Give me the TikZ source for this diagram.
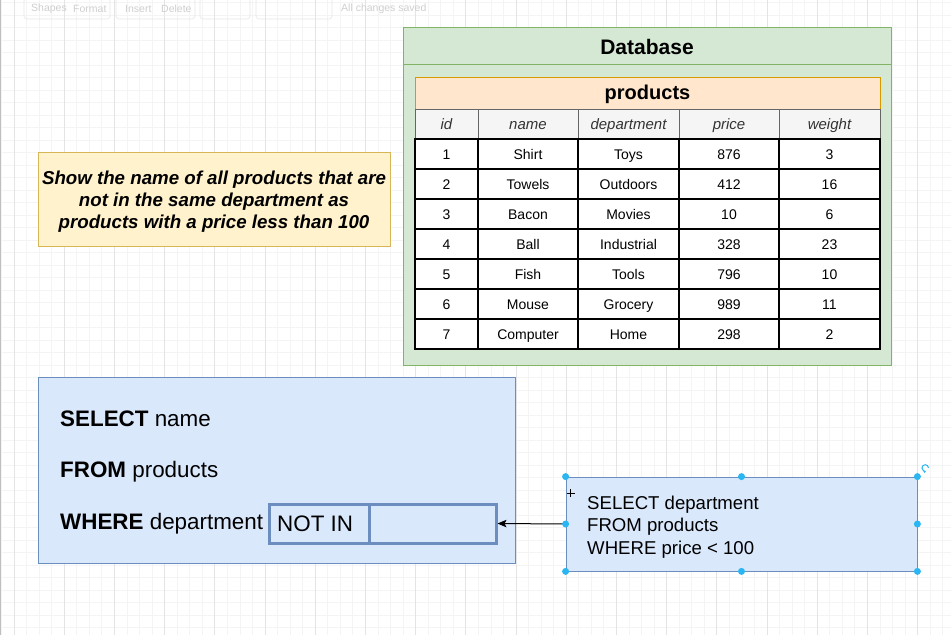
\documentclass[tikz,border=0pt]{standalone}
\usepackage{fontspec}
\setmainfont{Liberation Sans}
\usetikzlibrary{arrows.meta}
\definecolor{gfill}{HTML}{D5E8D4}
\definecolor{gline}{HTML}{82B366}
\definecolor{ofill}{HTML}{FFE6CC}
\definecolor{oline}{HTML}{D79B00}
\definecolor{yfill}{HTML}{FFF2CC}
\definecolor{yline}{HTML}{D6B656}
\definecolor{bfill}{HTML}{DAE8FC}
\definecolor{bline}{HTML}{6C8EBF}
\definecolor{hfill}{HTML}{F5F5F5}
\definecolor{hline}{HTML}{666666}
\definecolor{htext}{HTML}{333333}
\definecolor{handle}{HTML}{29B6F2}
\definecolor{gridminor}{HTML}{F4F4F4}
\definecolor{gridmajor}{HTML}{E4E4E4}
\definecolor{tbtext}{HTML}{CFCFCF}
\begin{document}
\begin{tikzpicture}[x=1pt,y=-1pt,
  box/.style={anchor=north west,inner sep=0pt,outer sep=0pt},
  cell/.style={draw=black,line width=1.2pt,fill=white,minimum height=30pt,inner sep=0pt,
    text height=12pt,text depth=1pt,font=\fontsize{14}{16}\selectfont},
  hcell/.style={draw=hline,line width=1pt,fill=hfill,minimum height=30pt,inner sep=0pt,
    text height=12.5pt,text depth=1.5pt,text=htext,font=\fontsize{15}{17}\selectfont\itshape},
  qtext/.style={anchor=west,inner sep=0pt,font=\fontsize{22.4}{26}\selectfont},
  tb/.style={inner sep=0pt,text=tbtext,font=\fontsize{10.5}{12}\selectfont},
  hdot/.style={fill=handle}
]
\useasboundingbox (0,0) rectangle (951,635);
\fill[white] (0,0) rectangle (951,635);
% grid
\foreach \k in {0,...,50}
  \draw[gridminor,line width=0.8pt] (0,{2.7+12.5*\k}) -- (951,{2.7+12.5*\k});
\foreach \k in {-1,...,74}
  \draw[gridminor,line width=0.8pt] ({14+12.55*\k},0) -- ({14+12.55*\k},635);
\foreach \k in {0,...,18}
  \draw[gridmajor,line width=0.8pt] ({14+50.2*\k},0) -- ({14+50.2*\k},635);
\draw[gray!50,line width=1pt] (0.5,0) -- (0.5,635);
% faint toolbar
\draw[tbtext!50,line width=0.6pt,rounded corners=3pt] (24,-2) rectangle (110,19);
\draw[tbtext!50,line width=0.6pt,rounded corners=3pt] (116,-2) rectangle (195,19);
\draw[tbtext!50,line width=0.6pt,rounded corners=3pt] (200,-2) rectangle (250,19);
\draw[tbtext!50,line width=0.6pt,rounded corners=3pt] (256,-2) rectangle (332,19);
\node[tb,anchor=west] (tshapes) at (31,9) {Shapes};
\node[tb,anchor=west] (tformat) at (73,9) {Format};
\node[tb,anchor=west] (tinsert) at (125,9) {Insert};
\node[tb,anchor=west] (tdelete) at (161,9) {Delete};
\node[tb,anchor=west] (tsaved) at (341,9) {All changes saved};

% Database container
\node[box,draw=gline,fill=gfill,line width=1pt,minimum width=488pt,minimum height=338pt] (db) at (403,27) {};
\draw[gline,line width=1pt] (db.west |- 0,64) -- (db.east |- 0,64);
\node[inner sep=0pt,font=\fontsize{21}{24}\selectfont\bfseries] (dbt) at (647,47) {Database};
\node[box,draw=oline,fill=ofill,line width=1pt,minimum width=465pt,minimum height=32pt] (prod) at (415,77) {};
\node[inner sep=0pt,font=\fontsize{20}{23}\selectfont\bfseries] (prodt) at (647.5,94) {products};
% header row
\foreach \t/\cx/\w [count=\c] in {id/446.5/63,name/528/100,department/628.5/101,price/729/100,weight/829.5/101}
  \node[hcell,minimum width=\w pt] (h\c) at (\cx,124) {\t};
% data rows
\foreach \va/\vb/\vc/\vd/\ve [count=\r] in {1/Shirt/Toys/876/3,2/Towels/Outdoors/412/16,3/Bacon/Movies/10/6,4/Ball/Industrial/328/23,5/Fish/Tools/796/10,6/Mouse/Grocery/989/11,7/Computer/Home/298/2}{
  \node[cell,minimum width=63pt] (r\r c1) at (446.5,{124+30*\r}) {\va};
  \node[cell,minimum width=100pt] (r\r c2) at (528,{124+30*\r}) {\vb};
  \node[cell,minimum width=101pt] (r\r c3) at (628.5,{124+30*\r}) {\vc};
  \node[cell,minimum width=100pt] (r\r c4) at (729,{124+30*\r}) {\vd};
  \node[cell,minimum width=101pt] (r\r c5) at (829.5,{124+30*\r}) {\ve};
}

% task note
\node[draw=yline,fill=yfill,line width=1pt,minimum width=352pt,minimum height=94pt,inner sep=0pt,
  outer sep=0pt] (task) at (214,199) {};
\node[inner sep=0pt,align=center,font=\fontsize{18.7}{22}\selectfont\bfseries\itshape] (tasktext) at (214,202)
  {Show the name of all products that are\\not in the same department as\\products with a price less than 100};

% main query
\node[box,draw=bline,fill=bfill,line width=1pt,minimum width=477pt,minimum height=186pt] (query) at (38,377) {};
\node[qtext] (qsel) at (60,419) {\textbf{SELECT} name};
\node[qtext] (qfrom) at (60,472) {\textbf{FROM} products};
\node[qtext] (qwhere) at (60,524) {\textbf{WHERE} department};
\node[draw=bline,line width=3pt,minimum width=100pt,minimum height=39pt,inner sep=0pt] (notin) at (319,523.5) {};
\node[draw=bline,line width=3pt,minimum width=127pt,minimum height=39pt,inner sep=0pt] (sub) at (432.5,523.5) {};
\node[qtext] (notint) at (277,524) {NOT IN};

% subquery
\node[draw=bline,fill=bfill,line width=0.8pt,minimum width=351pt,minimum height=94pt,inner sep=0pt] (rb) at (741.5,524) {};
\node[anchor=west,inner sep=0pt,align=left,font=\fontsize{18.6}{22.5}\selectfont] (rbt) at (587,527)
  {SELECT department\\FROM products\\WHERE price < 100};
\draw[line width=1pt,-{Stealth[length=9pt,width=7.5pt,inset=2pt]}] (rb.west) -- (sub.east);

% selection handles
\foreach \p in {north west,north,north east,west,east,south west,south,south east}
  \fill[hdot] (rb.\p) circle (3.5);
\draw[handle,line width=1pt,-{Stealth[length=2.2pt,width=3pt]}] (928.5,468) arc[start angle=0,end angle=-280,radius=3.3];
\draw[line width=0.9pt] (566.5,493) -- (574.5,493) (570.5,489) -- (570.5,497);
\end{tikzpicture}
\end{document}
